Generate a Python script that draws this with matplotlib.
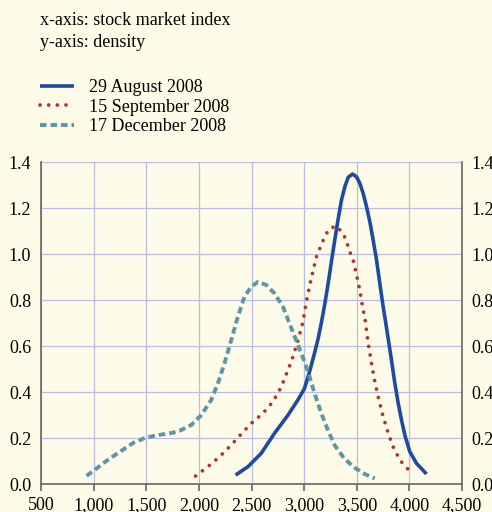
import matplotlib
matplotlib.use("Agg")
import matplotlib.pyplot as plt
from matplotlib.ticker import FuncFormatter

plt.rcParams['font.family'] = ['Liberation Serif', 'DejaVu Serif']

# 29 August 2008
aug_x = [2348, 2466, 2592, 2718, 2846, 2940, 3003, 3051, 3095, 3133, 3164, 3196, 3228, 3259, 3291,
         3323, 3354, 3386, 3418, 3459, 3497, 3528, 3560, 3592, 3623, 3655, 3687, 3718, 3750, 3782,
         3829, 3861, 3893, 3924, 3956, 4003, 4067, 4162]
aug_y = [0.040, 0.077, 0.135, 0.222, 0.301, 0.367, 0.417, 0.49, 0.565, 0.635, 0.705, 0.785, 0.875, 0.97, 1.065,
         1.155, 1.236, 1.294, 1.335, 1.349, 1.337, 1.309, 1.265, 1.207, 1.142, 1.062, 0.975, 0.874, 0.772, 0.68,
         0.54, 0.439, 0.352, 0.28, 0.214, 0.142, 0.091, 0.045]

# 15 September 2008
sep_x = [1968, 2085, 2196, 2307, 2402, 2497, 2608, 2703, 2782, 2846, 2893, 2941, 2985, 3021, 3053,
         3086, 3117, 3148, 3181, 3212, 3243, 3307, 3354, 3392, 3433, 3465, 3497, 3528, 3551, 3579,
         3608, 3639, 3671, 3709, 3750, 3798, 3845, 3908, 4013]
sep_y = [0.036, 0.077, 0.12, 0.171, 0.219, 0.265, 0.309, 0.359, 0.424, 0.497, 0.555, 0.627, 0.70, 0.795, 0.867,
         0.932, 0.99, 1.026, 1.062, 1.091, 1.113, 1.123, 1.098, 1.07, 1.011, 0.975, 0.91, 0.845, 0.78, 0.714,
         0.613, 0.526, 0.446, 0.367, 0.294, 0.222, 0.163, 0.106, 0.052]

# 17 December 2008
dec_x = [933, 1000, 1100, 1250, 1375, 1500, 1625, 1750, 1832, 1927, 2022, 2117, 2180, 2243, 2307,
         2370, 2433, 2497, 2560, 2639, 2718, 2798, 2877, 2941, 3003, 3051, 3098, 3162, 3225, 3288,
         3368, 3463, 3574, 3669]
dec_y = [0.037, 0.059, 0.095, 0.142, 0.18, 0.204, 0.215, 0.224, 0.236, 0.258, 0.301, 0.367, 0.439, 0.526, 0.627,
         0.729, 0.816, 0.859, 0.88, 0.867, 0.83, 0.772, 0.68, 0.605, 0.533, 0.468, 0.396, 0.309, 0.236, 0.171,
         0.12, 0.077, 0.045, 0.026]

x_ticks = [500, 1000, 1500, 2000, 2500, 3000, 3500, 4000, 4500]
y_ticks = [0.0, 0.2, 0.4, 0.6, 0.8, 1.0, 1.2, 1.4]

bg = '#fefce8'
fig = plt.figure(figsize=(4.92, 5.12), dpi=100, facecolor=bg)
ax = fig.add_axes([0.0833, 0.054, 0.856, 0.629], facecolor=bg)

ax.plot(aug_x, aug_y, color='#1e4aa0', lw=2.6, solid_capstyle='butt', solid_joinstyle='round',
        label='29 August 2008', zorder=3)
ax.plot(sep_x, sep_y, color='#b2332c', lw=2.7, linestyle=(0, (0.01, 2.3)), dash_capstyle='round',
        label='15 September 2008', zorder=3)
ax.plot(dec_x, dec_y, color='#5c96a9', lw=2.8, linestyle=(0, (1.7, 1.0)), label='17 December 2008', zorder=3)

ax.set_xlim(500, 4500)
ax.set_ylim(0, 1.4)
ax.set_xticks(x_ticks)
ax.set_yticks(y_ticks)
ax.xaxis.set_major_formatter(FuncFormatter(lambda v, p: f'{int(v):,}'))
ax.yaxis.set_major_formatter(FuncFormatter(lambda v, p: f'{v:.1f}'))
ax.grid(True, color='#b9bde3', lw=0.9)
ax.set_axisbelow(True)

for s in ['left', 'right', 'bottom']:
    ax.spines[s].set_color('#666666')
    ax.spines[s].set_linewidth(1.2)
ax.spines['top'].set_visible(False)

ax.tick_params(axis='x', direction='out', length=5, width=1.2, color='#666666', labelsize=13, pad=4)
ax.tick_params(axis='y', length=0, labelsize=13, pad=7, left=True, right=True, labelleft=True, labelright=True)

fig.text(0.081, 0.96, 'x-axis: stock market index', fontsize=13, va='center')
fig.text(0.081, 0.917, 'y-axis: density', fontsize=13, va='center')

fig.legend(loc='upper left', bbox_to_anchor=(0.081, 0.845), frameon=False, fontsize=13,
           handlelength=1.9, handletextpad=0.83, labelspacing=0.13, borderpad=0, borderaxespad=0)

fig.savefig('out.png', dpi=100, facecolor=bg)
